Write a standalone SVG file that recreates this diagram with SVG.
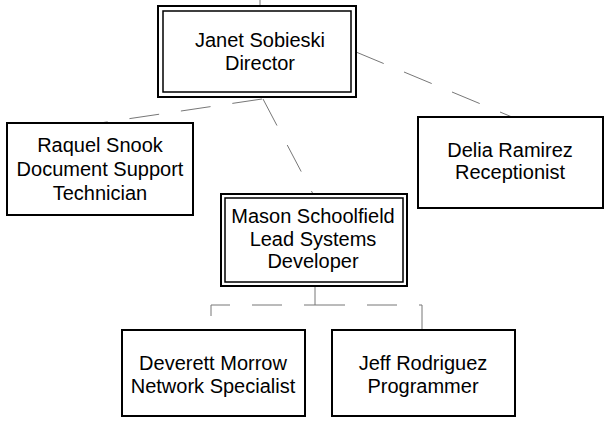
<svg xmlns="http://www.w3.org/2000/svg" width="607" height="423" viewBox="0 0 607 423">
<style>
.box{fill:#fff;stroke:#000;stroke-width:2}
.inner{fill:none;stroke:#000;stroke-width:1.5}
.t{font-family:"Liberation Sans",Arial,sans-serif;font-size:20px;fill:#000;text-anchor:middle}
.c{fill:none;stroke:#777;stroke-width:1;stroke-dasharray:30 22}
</style>
<rect width="607" height="423" fill="#fff"/>
<g id="connectors">
<line class="c" x1="260" y1="0" x2="260" y2="7"/>
<line class="c" x1="262" y1="99" x2="100" y2="123"/>
<line class="c" x1="356" y1="52" x2="512" y2="117"/>
<line class="c" x1="263" y1="99" x2="313" y2="194"/>
<polyline class="c" points="315,286 315,305 211,305 211,330"/>
<polyline class="c" points="315,305 422,305 422,330"/>
</g>
<g id="director">
<rect class="box" x="158" y="6" width="198" height="91"/>
<rect class="inner" x="163" y="11" width="188" height="81"/>
<text class="t" x="260" y="47">Janet Sobieski</text>
<text class="t" x="260" y="70">Director</text>
</g>
<g id="raquel">
<rect class="box" x="7" y="123" width="186" height="92"/>
<text class="t" x="100" y="152">Raquel Snook</text>
<text class="t" x="100" y="176">Document Support</text>
<text class="t" x="100" y="200">Technician</text>
</g>
<g id="delia">
<rect class="box" x="418" y="117" width="185" height="91"/>
<text class="t" x="510" y="157">Delia Ramirez</text>
<text class="t" x="510" y="179">Receptionist</text>
</g>
<g id="mason">
<rect class="box" x="221" y="194" width="186" height="92"/>
<rect class="inner" x="225" y="198" width="178" height="84"/>
<text class="t" x="313" y="223">Mason Schoolfield</text>
<text class="t" x="313" y="246">Lead Systems</text>
<text class="t" x="313" y="268">Developer</text>
</g>
<g id="deverett">
<rect class="box" x="122" y="330" width="183" height="86"/>
<text class="t" x="213" y="370">Deverett Morrow</text>
<text class="t" x="213" y="393">Network Specialist</text>
</g>
<g id="jeff">
<rect class="box" x="332" y="330" width="183" height="86"/>
<text class="t" x="423" y="370">Jeff Rodriguez</text>
<text class="t" x="423" y="393">Programmer</text>
</g>
</svg>
